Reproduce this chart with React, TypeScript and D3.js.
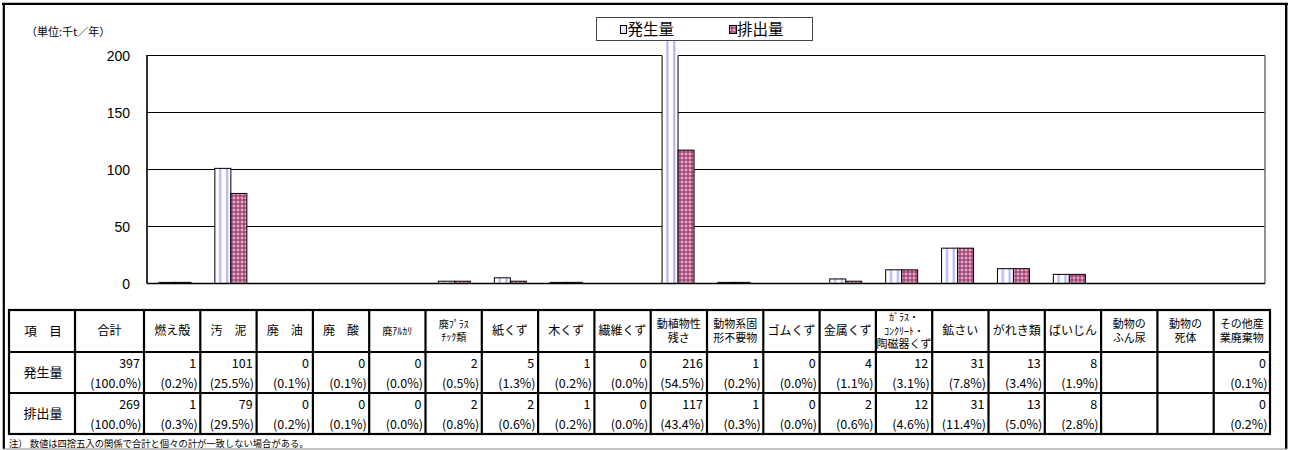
import React from 'react';
import * as d3 from 'd3';

// Waste categories (table header text; "\n" marks a line break in the header cell)
const categories: string[] = [
  '燃え殻',
  '汚　泥',
  '廃　油',
  '廃　酸',
  '廃ｱﾙｶﾘ',
  '廃ﾌﾟﾗｽ\nﾁｯｸ類',
  '紙くず',
  '木くず',
  '繊維くず',
  '動植物性\n残さ',
  '動物系固\n形不要物',
  'ゴムくず',
  '金属くず',
  'ｶﾞﾗｽ・\nｺﾝｸﾘｰﾄ・\n陶磁器くず',
  '鉱さい',
  'がれき類',
  'ばいじん',
  '動物の\nふん尿',
  '動物の\n死体',
  'その他産\n業廃棄物',
];

const seriesNames = ['発生量', '排出量'];

// 千t／年
const generated: (number | null)[] = [1, 101, 0, 0, 0, 2, 5, 1, 0, 216, 1, 0, 4, 12, 31, 13, 8, null, null, 0];
const discharged: (number | null)[] = [1, 79, 0, 0, 0, 2, 2, 1, 0, 117, 1, 0, 2, 12, 31, 13, 8, null, null, 0];

// share of the total, %
const generatedShare: (number | null)[] = [0.2, 25.5, 0.1, 0.1, 0.0, 0.5, 1.3, 0.2, 0.0, 54.5, 0.2, 0.0, 1.1, 3.1, 7.8, 3.4, 1.9, null, null, 0.1];
const dischargedShare: (number | null)[] = [0.3, 29.5, 0.2, 0.1, 0.0, 0.8, 0.6, 0.2, 0.0, 43.4, 0.3, 0.0, 0.6, 4.6, 11.4, 5.0, 2.8, null, null, 0.2];

const totals = [397, 269];
const totalShares = [100.0, 100.0];

const yTicks = [0, 50, 100, 150, 200];

const W = 1290;
const H = 450;

const JP = '"Noto Sans CJK JP", "Noto Sans", sans-serif';
const AR = '"Liberation Sans", Arial, sans-serif';

// half-width katakana lines are set a little smaller
const isHalfKana = (s: string) => /[\uFF61-\uFF9F]/.test(s);

export default function App() {
  const plotL = 147;
  const plotR = 1265;
  const y = d3.scaleLinear().domain([0, 200]).range([283.5, 55.5]);
  const x = d3.scaleBand<string>().domain(categories).range([plotL, plotR]).padding(0);
  const sub = d3.scaleBand<string>().domain(seriesNames).range([-16, 16]).padding(0);

  // table geometry
  const tLeft = 9;
  const tItem = 75;
  const tTotal = 144;
  const tRight = 1270;
  const rows = [310, 352, 393, 434];
  const col = d3.scaleBand<string>().domain(categories).range([tTotal, tRight]).padding(0);

  const series = [generated, discharged];
  const shares = [generatedShare, dischargedShare];
  const fills = ['url(#patGen)', 'url(#patDis)'];

  const fmtPct = (v: number) => `(${v.toFixed(1)}%)`;

  const numberCell = (key: string, right: number, rowTop: number, value: number | null, share: number | null) =>
    value === null ? null : (
      <g key={key} fontFamily={JP} fontSize={12.5} textAnchor="end" fill="#000">
        <text x={right - 4} y={rowTop + 16}>{value}</text>
        <text x={right - 2.5} y={rowTop + 36}>{share === null ? '' : fmtPct(share)}</text>
      </g>
    );

  return (
    <svg
      width={W}
      height={H}
      viewBox={`0 0 ${W} ${H}`}
      style={{ position: 'absolute', left: 0, top: 0, background: '#fff' }}
    >
      <defs>
        <pattern id="patGen" patternUnits="objectBoundingBox" patternContentUnits="objectBoundingBox" width={1} height={1}>
          <rect x={0} y={0} width={1} height={1} fill="#fff" />
          <rect x={0.27} y={0} width={0.13} height={1} fill="#b0b0fa" />
          <rect x={0.7} y={0} width={0.13} height={1} fill="#b0b0fa" />
        </pattern>
        <pattern id="patDis" patternUnits="userSpaceOnUse" width={4} height={4}>
          <rect x={0} y={0} width={4} height={4} fill="#a24577" />
          <rect x={1.5} y={0.5} width={1} height={3} fill="#f2cfe0" />
          <rect x={0.5} y={1.5} width={3} height={1} fill="#f2cfe0" />
        </pattern>
        <clipPath id="plotClip">
          <rect x={plotL - 2} y={y(200)} width={plotR - plotL + 4} height={y(0) - y(200) + 2} />
        </clipPath>
      </defs>

      {/* outer frame */}
      <line x1={2} x2={1288} y1={3.8} y2={3.8} stroke="#000" strokeWidth={2.2} />
      <line x1={3.8} x2={3.8} y1={3} y2={449} stroke="#000" strokeWidth={2.2} />
      <line x1={1286.2} x2={1286.2} y1={3} y2={449} stroke="#000" strokeWidth={2.4} />
      <line x1={3} x2={1287} y1={449} y2={449} stroke="#888" strokeWidth={1.2} />

      {/* unit */}
      <text x={26} y={36} fontFamily={JP} fontSize={11} fill="#000">（単位:千t／年）</text>

      {/* gridlines and plot border */}
      {yTicks.filter(t => t > 0).map(t => (
        <line key={`g${t}`} x1={plotL} x2={plotR} y1={y(t)} y2={y(t)} stroke="#000" strokeWidth={1} />
      ))}
      <line x1={plotR} x2={plotR} y1={y(200)} y2={y(0)} stroke="#777" strokeWidth={1.6} />

      {/* y tick labels */}
      {yTicks.map(t => (
        <text key={`t${t}`} x={130} y={y(t)} dy="0.36em" textAnchor="end" fontFamily={AR} fontSize={14} fill="#000">
          {t}
        </text>
      ))}

      {/* bars */}
      {series.map((vals, si) =>
        categories.map((c, ci) => {
          const v = vals[ci];
          if (v === null) return null;
          const bx = (x(c) as number) + x.bandwidth() / 2 + (sub(seriesNames[si]) as number);
          const bw = sub.bandwidth();
          const top = y(v);
          const h = Math.max(y(0) - top, 0.01);
          return (
            <g key={`b${si}-${ci}`}>
              <rect x={bx} y={top} width={bw} height={h} fill={fills[si]} />
              <rect
                x={bx}
                y={top}
                width={bw}
                height={h}
                fill="none"
                stroke="#000"
                strokeWidth={1}
                clipPath="url(#plotClip)"
              />
            </g>
          );
        })
      )}

      {/* axes */}
      <line x1={plotL} x2={plotL} y1={y(200) - 0.5} y2={y(0)} stroke="#000" strokeWidth={1.6} />
      <line x1={plotL} x2={plotR} y1={y(0)} y2={y(0)} stroke="#000" strokeWidth={1.4} />

      {/* legend */}
      <g>
        <rect x={596.5} y={17.5} width={216} height={23} fill="#fff" stroke="#444" strokeWidth={1} />
        <rect x={620.5} y={25.5} width={6} height={8} fill={fills[0]} stroke="#000" strokeWidth={1} />
        <text x={627.5} y={35} fontFamily={JP} fontSize={15.5} fill="#000">{seriesNames[0]}</text>
        <rect x={729.5} y={25.5} width={7} height={8} fill={fills[1]} stroke="#000" strokeWidth={1} />
        <text x={737} y={35} fontFamily={JP} fontSize={15.5} fill="#000">{seriesNames[1]}</text>
      </g>

      {/* table */}
      <g>
        <rect x={tLeft} y={rows[0]} width={tRight - tLeft} height={rows[3] - rows[0]} fill="none" stroke="#000" strokeWidth={2.2} />
        {rows.slice(1, 3).map(r => (
          <line key={`r${r}`} x1={tLeft} x2={tRight} y1={r} y2={r} stroke="#000" strokeWidth={2.2} />
        ))}
        {[tItem, tTotal, ...categories.slice(1).map(c => col(c) as number)].map((cx, i) => (
          <line key={`c${i}`} x1={cx} x2={cx} y1={rows[0]} y2={rows[3]} stroke="#000" strokeWidth={2.2} />
        ))}

        {/* header row */}
        <text x={(tLeft + tItem) / 2 + 1} y={(rows[0] + rows[1]) / 2} dy="0.36em" textAnchor="middle" fontFamily={JP} fontSize={12.5} fill="#000">
          項　目
        </text>
        <text x={(tItem + tTotal) / 2} y={(rows[0] + rows[1]) / 2} dy="0.36em" textAnchor="middle" fontFamily={JP} fontSize={12} fill="#000">
          合計
        </text>
        {categories.map(c => {
          const lines = c.split('\n');
          const cx = (col(c) as number) + col.bandwidth() / 2;
          const mid = (rows[0] + rows[1]) / 2;
          const lh = 13.5;
          const y0 = mid - ((lines.length - 1) * lh) / 2;
          const single = lines.length === 1;
          return (
            <g key={`h${c}`}>
              {lines.map((ln, li) => (
                <text
                  key={li}
                  x={cx}
                  y={y0 + li * lh}
                  dy="0.36em"
                  textAnchor="middle"
                  fontFamily={JP}
                  fontSize={isHalfKana(ln) ? 10 : single ? 12 : 11}
                  fill="#000"
                >
                  {ln}
                </text>
              ))}
            </g>
          );
        })}

        {/* data rows */}
        {seriesNames.map((name, si) => {
          const rTop = rows[si + 1];
          const rBot = rows[si + 2];
          return (
            <g key={`row${si}`}>
              <text x={(tLeft + tItem) / 2 + 1} y={(rTop + rBot) / 2} dy="0.36em" textAnchor="middle" fontFamily={JP} fontSize={13} fill="#000">
                {name}
              </text>
              {numberCell(`tot${si}`, tTotal, rTop, totals[si], totalShares[si])}
              {categories.map((c, ci) =>
                numberCell(`n${si}-${ci}`, (col(c) as number) + col.bandwidth(), rTop, series[si][ci], shares[si][ci])
              )}
            </g>
          );
        })}
      </g>

      {/* note */}
      <text x={9} y={446.5} fontFamily={JP} fontSize={9.3} fill="#000">
        注） 数値は四捨五入の関係で合計と個々の計が一致しない場合がある。
      </text>
    </svg>
  );
}
